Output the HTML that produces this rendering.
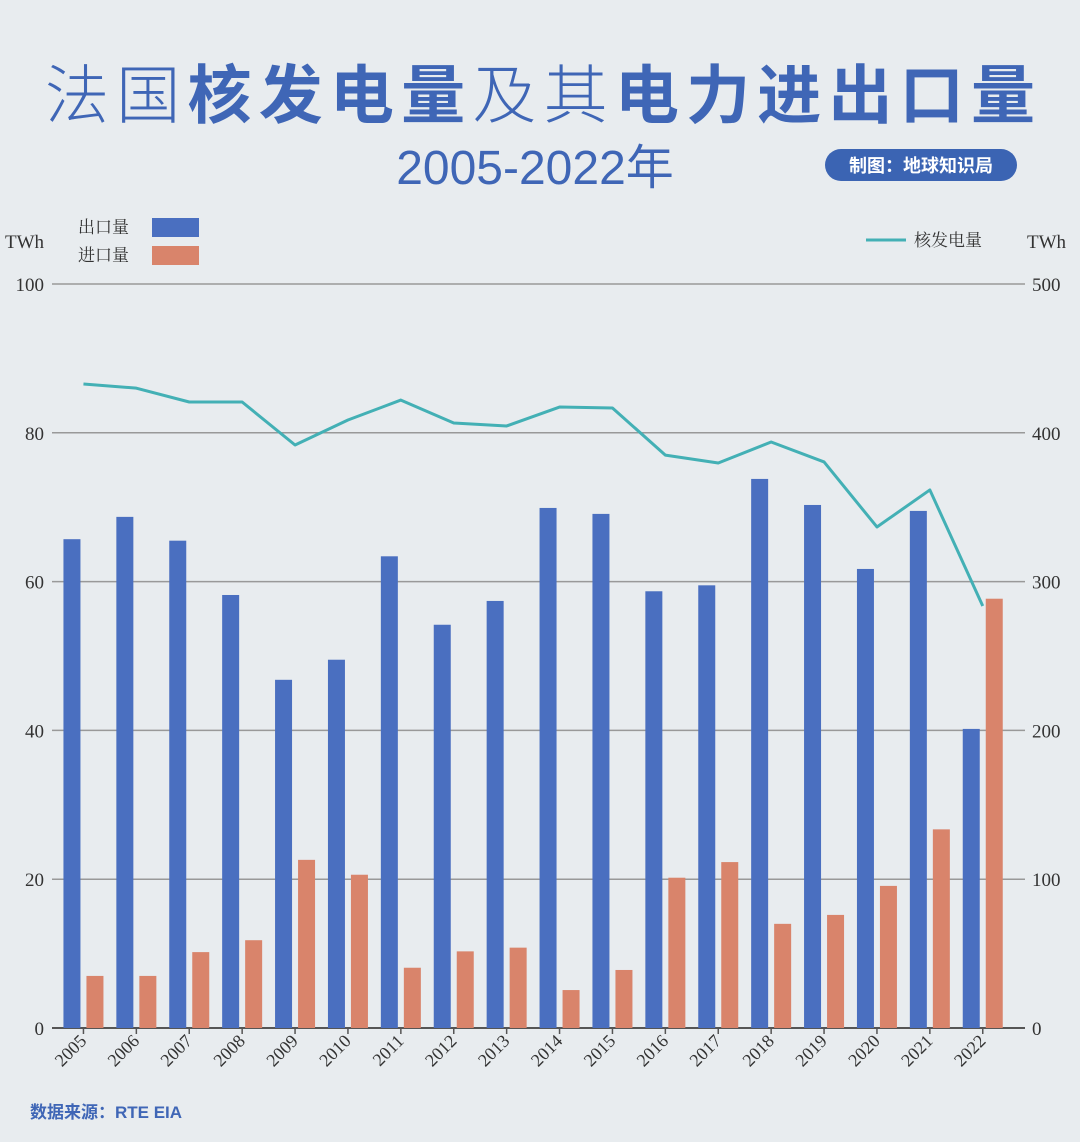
<!DOCTYPE html>
<html><head><meta charset="utf-8"><style>
html,body{margin:0;padding:0;background:#e8ecef;}
svg{display:block;}
text{font-family:"Liberation Serif","Noto Serif CJK SC",serif;}
.cjk{font-family:"Liberation Sans","Noto Sans CJK SC",sans-serif;}
</style></head><body>
<svg id="chart" width="1080" height="1142" viewBox="0 0 1080 1142">
<rect width="1080" height="1142" fill="#e8ecef"/>
<text x="45" y="118" textLength="990" lengthAdjust="spacing" class="cjk" fill="#3f66b6" font-size="64"><tspan font-weight="300">法国</tspan><tspan font-weight="bold">核发电量</tspan><tspan font-weight="300">及其</tspan><tspan font-weight="bold">电力进出口量</tspan></text>
<text x="535" y="184" text-anchor="middle" class="cjk" fill="#3f66b6" font-size="48">2005-2022年</text>
<rect x="825" y="149" width="192" height="32" rx="16" fill="#3b64b3"/>
<text x="921" y="172" text-anchor="middle" class="cjk" fill="#fff" font-size="18" font-weight="bold">制图：地球知识局</text>
<text x="5" y="248" font-size="19" fill="#333">TWh</text>
<text x="1027" y="248" font-size="19" fill="#333">TWh</text>
<g>
<text x="78" y="233" font-size="17" fill="#333">出口量</text>
<rect x="152" y="218" width="47" height="19" fill="#4a6fc0"/>
<text x="78" y="261" font-size="17" fill="#333">进口量</text>
<rect x="152" y="246" width="47" height="19" fill="#d9846b"/>
<line x1="866" y1="240" x2="906" y2="240" stroke="#43b0b5" stroke-width="3"/>
<text x="914" y="246" font-size="17" fill="#333">核发电量</text>
</g>
<g id="grid"></g><g id="bars"></g><g id="line"></g><g id="xlabels"></g>
<text x="30" y="1118" class="cjk" font-size="17" fill="#3f66b6" font-weight="bold">数据来源：RTE EIA</text>
</svg>
<script>
const years=["2005","2006","2007","2008","2009","2010","2011","2012","2013","2014","2015","2016","2017","2018","2019","2020","2021","2022"];
const exportsTWh=[65.7,68.7,65.5,58.2,46.8,49.5,63.4,54.2,57.4,69.9,69.1,58.7,59.5,73.8,70.3,61.7,69.5,40.2];
const importsTWh=[7.0,7.0,10.2,11.8,22.6,20.6,8.1,10.3,10.8,5.1,7.8,20.2,22.3,14.0,15.2,19.1,26.7,57.7];
const nuclearTWh=[432.8,430,420.7,420.7,391.8,408.6,422,406.6,404.6,417.3,416.7,385,379.7,393.8,380.4,336.7,361.6,283.6];
const leftTicks=[0,20,40,60,80,100];
const rightTicks=[0,100,200,300,400,500];
const NS="http://www.w3.org/2000/svg";
const y0=1028,y1=284,xl=52,xr=1025;
function yL(v){return y0-(v/100)*(y0-y1);}
function yR(v){return y0-(v/500)*(y0-y1);}
const band=52.9,gx0=57;
function xC(i){return gx0+band*i+band/2;}
function mk(tag,attrs,parent){const e=document.createElementNS(NS,tag);for(const k in attrs)e.setAttribute(k,attrs[k]);parent.appendChild(e);return e;}
const grid=document.getElementById('grid');
leftTicks.forEach((t,i)=>{
  const y=yL(t);
  const l=mk('line',{x1:xl,x2:xr,y1:y,y2:y,stroke:i==0?'#555':'#999','stroke-width':i==0?2:1.5},grid);
  
  
  const tx=mk('text',{x:44,y:y+7,'text-anchor':'end','font-size':19,fill:'#333'},grid);
  tx.textContent=t;
  
  
});
rightTicks.forEach(t=>{
  const y=yR(t);
  const tx=mk('text',{x:1032,y:y+7,'font-size':19,fill:'#333'},grid);
  tx.textContent=t;
  
  
});
const bars=document.getElementById('bars');
const xlab=document.getElementById('xlabels');
years.forEach((yr,i)=>{
  const c=xC(i);
  const b1=mk('rect',{x:c-20,y:yL(exportsTWh[i]),width:17,height:y0-yL(exportsTWh[i]),fill:'#4a6fc0'},bars);
  
  
  const b2=mk('rect',{x:c+3,y:yL(importsTWh[i]),width:17,height:y0-yL(importsTWh[i]),fill:'#d9846b'},bars);
  
  
  const tk=mk('line',{x1:c,x2:c,y1:y0,y2:y0+6,stroke:'#555','stroke-width':1.5},xlab);
  
  
  const tx=mk('text',{x:c+4,y:y0+14,'text-anchor':'end','font-size':18,fill:'#333',transform:`rotate(-45 ${c+4} ${y0+14})`},xlab);
  tx.textContent=yr;
  
  
});
const pts=nuclearTWh.map((v,i)=>xC(i)+','+yR(v)).join(' ');
const pl=mk('polyline',{points:pts,fill:'none',stroke:'#43b0b5','stroke-width':3,'stroke-linejoin':'round'},document.getElementById('line'));


</script>
</body></html>
